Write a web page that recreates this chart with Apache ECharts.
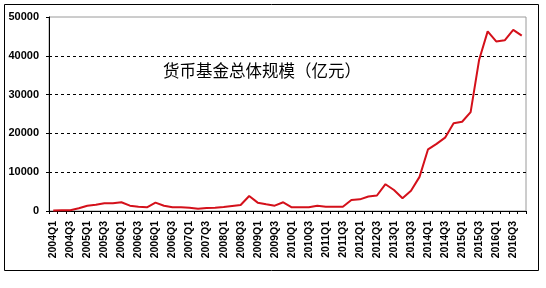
<!DOCTYPE html>
<html>
<head>
<meta charset="utf-8">
<script src="https://cdn.jsdelivr.net/npm/echarts@6/dist/echarts.min.js"></script>
<style>
html,body{margin:0;padding:0;background:#fff;}
#chart{width:546px;height:288px;}
</style>
</head>
<body>
<div id="chart"></div>
<script>
// Tick labels as printed (every other quarter)
var tickLabels = ["2004Q1","2004Q3","2005Q1","2005Q3","2006Q1","2006Q3","2006Q1","2006Q3",
  "2007Q1","2007Q3","2008Q1","2008Q3","2009Q1","2009Q3","2010Q1","2010Q3","2011Q1","2011Q3",
  "2012Q1","2012Q3","2013Q1","2013Q3","2014Q1","2014Q3","2015Q1","2015Q3","2016Q1","2016Q3"];
// Quarterly categories (56)
var categories = [];
tickLabels.forEach(function(t){
  categories.push(t);
  categories.push(t.slice(0,5) + (t.charAt(5) === "1" ? "2" : "4"));
});
// Money fund total size (100 million yuan)
var fundSize = [100,200,200,700,1370,1630,2000,2000,2250,1370,
  1100,950,2150,1370,950,950,860,600,770,860,
  1030,1290,1550,3870,2150,1730,1370,2250,950,950,
  950,1370,1100,1100,1100,2840,3000,3750,4000,6900,
  5400,3300,5200,8800,15900,17300,18900,22600,23000,25500,
  39000,46300,43700,44000,46700,45200];
var yTicks = [0,10000,20000,30000,40000,50000];
var chartTitle = "货币基金总体规模（亿元）";

var chart = echarts.init(document.getElementById('chart'), null, {renderer:'canvas'});
chart.setOption({
  animation:false,
  backgroundColor:'#fff',
  grid:{left:49,right:20,top:17,bottom:77,show:true,borderColor:'#9a9a9a',borderWidth:1,backgroundColor:'transparent'},
  graphic:[
    {type:'rect',shape:{x:4.5,y:4.5,width:534,height:266},style:{fill:'none',stroke:'#000',lineWidth:1},silent:true},
    {type:'text',left:163,top:62,style:{text:chartTitle,fill:'#000',font:'16.5px "Noto Sans CJK SC"'}}
  ],
  xAxis:{
    type:'category',
    data:categories,
    boundaryGap:true,
    axisLine:{lineStyle:{color:'#000',width:1}},
    axisTick:{show:true,interval:0,length:3,lineStyle:{color:'#000'}},
    axisLabel:{interval:1,rotate:90,color:'#000',fontFamily:'Liberation Sans',fontWeight:'bold',fontSize:10.5,margin:10},
    splitLine:{show:false}
  },
  yAxis:{
    type:'value',
    min:yTicks[0],max:yTicks[yTicks.length-1],interval:yTicks[1]-yTicks[0],
    axisLine:{show:true,lineStyle:{color:'#000',width:1}},
    axisTick:{show:true,length:3,lineStyle:{color:'#000'}},
    axisLabel:{color:'#000',fontFamily:'Liberation Sans',fontWeight:'bold',fontSize:11,margin:10,
      formatter:function(v){return String(v);}},
    splitLine:{show:true,showMinLine:false,showMaxLine:false,lineStyle:{color:'#000',type:[3,3],width:1}}
  },
  series:[{
    type:'line',
    data:fundSize,
    symbol:'none',
    smooth:false,
    lineStyle:{color:'#d4101a',width:2},
    itemStyle:{color:'#d4101a'}
  }]
});
</script>
</body>
</html>
